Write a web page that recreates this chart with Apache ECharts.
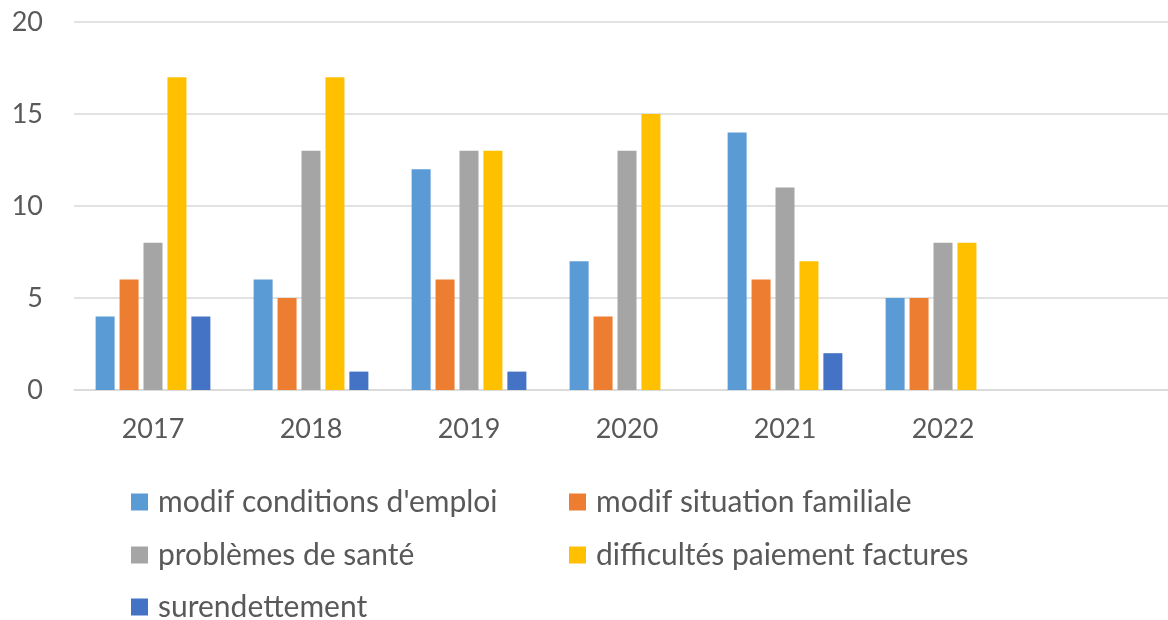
<!DOCTYPE html>
<html>
<head>
<meta charset="utf-8">
<script src="https://cdn.jsdelivr.net/npm/echarts@6/dist/echarts.min.js"></script>
<style>
  html, body { margin: 0; padding: 0; background: #fff; }
  #chart { width: 1168px; height: 620px; }
</style>
</head>
<body>
<div id="chart"></div>
<script>
var years = ['2017', '2018', '2019', '2020', '2021', '2022']
var seriesNames = [
  'modif conditions d\'emploi',
  'modif situation familiale',
  'problèmes de santé',
  'difficultés paiement factures',
  'surendettement'
]
var emploi = [4, 6, 12, 7, 14, 5]
var familiale = [6, 5, 6, 4, 6, 5]
var sante = [8, 13, 13, 13, 11, 8]
var factures = [17, 17, 13, 15, 7, 8]
var surendettement = [4, 1, 1, 0, 2, 0]
var colors = ['#5B9BD5', '#ED7D31', '#A5A5A5', '#FFC000', '#4472C4']

var font = 'Lato, "Open Sans", sans-serif'
var allData = [emploi, familiale, sante, factures, surendettement]

var series = allData.map(function (d, i) {
  return {
    name: seriesNames[i],
    type: 'bar',
    barWidth: 19,
    barGap: '26%',
    data: d,
    itemStyle: { color: colors[i] }
  }
})

// legend: 2 columns, 3 rows (one legend per item so the columns line up)
var legendPos = [[131, 485], [569, 485], [131, 538], [569, 538], [131, 590]]
var legends = seriesNames.map(function (name, i) {
  return {
    data: [name],
    left: legendPos[i][0],
    top: legendPos[i][1],
    padding: 0,
    icon: 'rect',
    itemWidth: 17,
    itemHeight: 17,
    selectedMode: false,
    textStyle: {
      fontFamily: font,
      fontSize: 30,
      color: '#595959',
      lineHeight: 34,
      padding: [0, 0, 0, 5]
    }
  }
})

var chart = echarts.init(document.getElementById('chart'))
chart.setOption({
  color: colors,
  animation: false,
  // the plot runs a little past the right edge (empty 7th slot)
  grid: { left: 74, top: 22, width: 1106, height: 368, outerBoundsMode: 'none' },
  legend: legends,
  xAxis: {
    type: 'category',
    data: years.concat(['']),
    axisTick: { show: false },
    axisLine: { lineStyle: { color: '#d9d9d9', width: 1.5 } },
    axisLabel: { fontFamily: font, fontSize: 27, color: '#595959', margin: 26 }
  },
  yAxis: {
    type: 'value',
    min: 0,
    max: 20,
    interval: 5,
    axisLine: { show: false },
    axisTick: { show: false },
    splitLine: { lineStyle: { color: '#d9d9d9', width: 1.5 } },
    axisLabel: { fontFamily: font, fontSize: 27, color: '#595959', margin: 31 }
  },
  series: series
})
</script>
</body>
</html>
